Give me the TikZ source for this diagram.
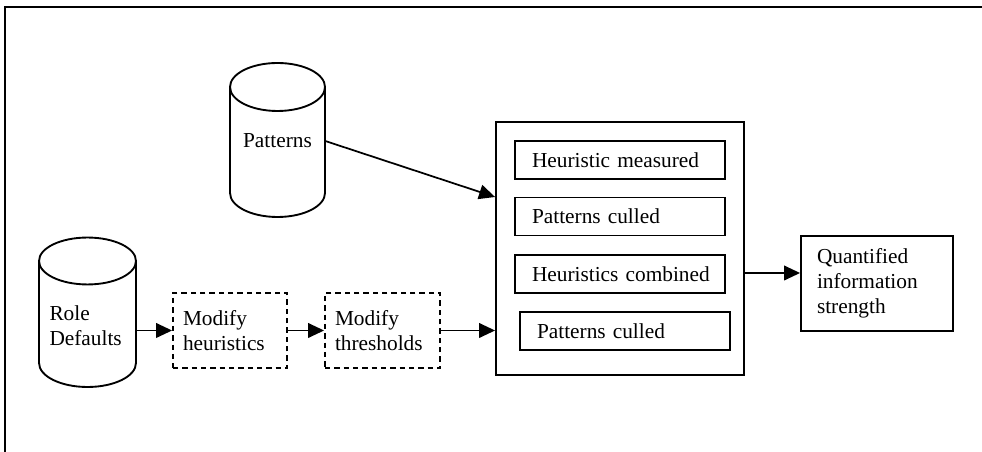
\documentclass[tikz,border=0pt]{standalone}
\usepackage{fontspec}
\setmainfont{Liberation Serif}
\usetikzlibrary{arrows.meta}
\begin{document}
\begin{tikzpicture}[x=0.75pt,y=0.75pt,
  every node/.style={font=\fontsize{16}{18.75}\selectfont},
  line/.style={line width=1.4pt},
  arr/.style={line width=1.3pt,-{Triangle[length=12pt,width=11pt]}},
  stage/.style={draw,line width=1.4pt,rectangle,minimum height=28.5pt,
    inner xsep=12.75pt,text width=132pt,align=left},
  modbox/.style={draw,line width=1.4pt,dash pattern=on 4pt off 3pt,rectangle,
    minimum height=56.25pt,inner xsep=7.5pt,align=left}
]
\useasboundingbox (0,0) rectangle (982,452);

% open frame: top and left edges only
\draw[line width=1.5pt] (982,445) -- (5,445) -- (5,0);

% Patterns store
\draw[line] (230,365) -- (230,259)
  arc[start angle=180,end angle=360,x radius=35.625pt,y radius=18pt] -- (325,365);
\draw[line] (277.5,365) ellipse[x radius=35.625pt,y radius=18pt];
\node[minimum width=71.25pt,inner sep=0] (pat) at (277.5,311) {Patterns};

% Role defaults store
\draw[line] (39,191) -- (39,89)
  arc[start angle=180,end angle=360,x radius=36.375pt,y radius=18pt] -- (136,191);
\draw[line] (87.5,191) ellipse[x radius=36.375pt,y radius=17.6pt];
\node[inner xsep=7.875pt,inner ysep=0,text width=57pt,align=left] (role) at (87.5,126) {Role\\Defaults};

% modification steps
\node[modbox,text width=70.5pt] (mh) at (230,121.5) {Modify\\heuristics};
\node[modbox,text width=71.25pt] (mt) at (382.5,121.5) {Modify\\thresholds};

% processing block
\node[draw,line width=1.4pt,minimum width=186pt,minimum height=189.75pt] (main) at (620,203.5) {};
\node[stage] (s1) at (620,292) {\mbox{Heuristic measured}};
\node[stage] (s2) at (620,235.5) {\mbox{Patterns culled}};
\node[stage] (s3) at (620,178) {\mbox{Heuristics combined}};
\node[stage] (s4) at (625,121) {\mbox{Patterns culled}};

% result
\node[draw,line width=1.4pt,text width=90pt,inner xsep=12pt,minimum height=71.25pt,align=left] (qty) at (877,168.5)
  {Quantified\\information\\strength};

% connectors
\coordinate (pin) at (0,255);
\coordinate (outy) at (0,179);
\draw[arr] (pat.east) -- (main.west |- pin);
\draw[arr] (role.east |- mh.west) -- (mh.west);
\draw[arr] (mh.east) -- (mt.west);
\draw[arr] (mt.east) -- (main.west |- mt.east);
\draw[arr] (main.east |- outy) -- (qty.west |- outy);
\end{tikzpicture}
\end{document}
